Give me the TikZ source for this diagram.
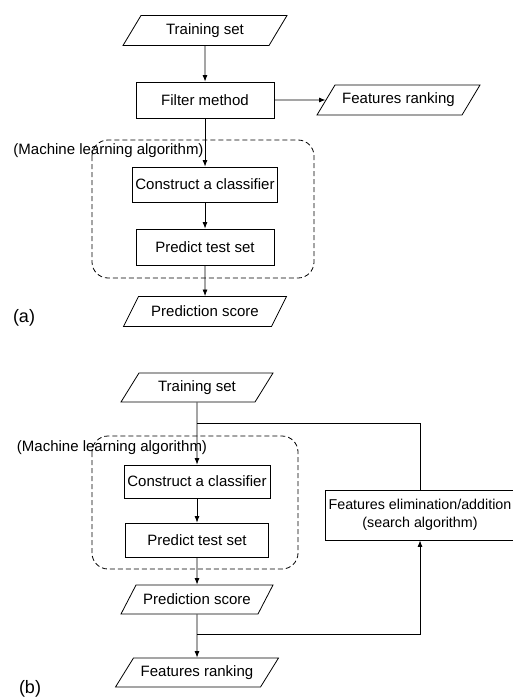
\documentclass[tikz,border=0pt]{standalone}
\usepackage{fontspec}
\setmainfont{Liberation Sans}
\usetikzlibrary{shapes.geometric,arrows.meta}
\tikzset{
  procbox/.style={draw,rectangle,line width=0.8pt,inner sep=2pt},
  databox/.style={draw,trapezium,trapezium left angle=45,trapezium right angle=135,
    trapezium stretches body,line width=0.8pt,inner sep=2pt,minimum height=30pt},
  mlframe/.style={draw,dash pattern=on 5pt off 3pt,rounded corners=16pt,line width=0.8pt},
  flow/.style={-{Latex[length=6.5pt,width=5pt]},line width=0.8pt},
  panel/.style={font=\fontsize{18}{20}\selectfont}
}
\begin{document}
\begin{tikzpicture}[x=1pt,y=-1pt,font=\fontsize{15}{18}\selectfont]
  \useasboundingbox (0,0) rectangle (513,698);
  % (a) filter method
  \node[databox,minimum width=164pt] (tsA) at (205,30.5) {Training set};
  \node[procbox,minimum width=138pt,minimum height=36pt] (filterA) at (205,100) {Filter method};
  \node[databox,minimum width=163pt] (frA) at (398.5,100) {Features ranking};
  \draw[mlframe] (92,140) rectangle (314,278);
  \node (mlA) at (108.5,151) {(Machine learning algorithm)};
  \node[procbox,minimum width=145pt,minimum height=35pt] (clsA) at (205,184.5) {Construct a classifier};
  \node[procbox,minimum width=138pt,minimum height=36pt] (predA) at (205,247) {Predict test set};
  \node[databox,minimum width=163pt] (psA) at (205,311.5) {Prediction score};
  \node[panel] (labA) at (24,318) {(a)};
  \draw[flow] (tsA) -- (filterA);
  \draw[flow] (filterA) -- (frA);
  \draw[flow] (filterA) -- (clsA);
  \draw[flow] (clsA) -- (predA);
  \draw[flow] (predA) -- (psA);
  % (b) wrapper method
  \node[databox,minimum width=152pt,minimum height=29pt] (tsB) at (197,387.5) {Training set};
  \draw[mlframe] (92,436) rectangle (298,569);
  \node (mlB) at (112,448) {(Machine learning algorithm)};
  \node[procbox,minimum width=146pt,minimum height=33pt] (clsB) at (197,481.5) {Construct a classifier};
  \node[procbox,minimum width=143pt,minimum height=34pt] (predB) at (197,540) {Predict test set};
  \node[databox,minimum width=152pt,minimum height=29pt] (psB) at (197,599.5) {Prediction score};
  \node[databox,minimum width=163pt,minimum height=29pt] (frB) at (197,672.5) {Features ranking};
  \node[procbox,minimum width=190pt,minimum height=50pt,align=center,
    font=\fontsize{14.3}{18}\selectfont] (elimB) at (420,515)
    {Features elimination/addition\\(search algorithm)};
  \node[panel] (labB) at (30,689) {(b)};
  \coordinate (joinB) at (197,423);
  \coordinate (splitB) at (197,634);
  \draw[flow] (tsB) -- (clsB);
  \draw[line width=0.8pt] (elimB.north) |- (joinB);
  \draw[flow] (clsB) -- (predB);
  \draw[flow] (predB) -- (psB);
  \draw[flow] (psB) -- (frB);
  \draw[flow] (splitB) -| (elimB.south);
\end{tikzpicture}
\end{document}
